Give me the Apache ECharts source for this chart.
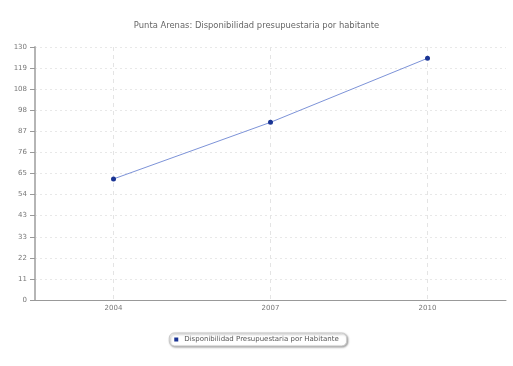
<!DOCTYPE html>
<html><head><meta charset="utf-8">
<script src="https://cdn.jsdelivr.net/npm/echarts@6/dist/echarts.min.js"></script>
<style>html,body{margin:0;padding:0;background:#fff}#c{width:513px;height:366px}</style>
</head><body><div id="c"></div>
<script>
var title = 'Punta Arenas: Disponibilidad presupuestaria por habitante';
var seriesName = 'Disponibilidad Presupuestaria por Habitante';
var categories = ['2004', '2007', '2010'];
var values = [62.2, 91.3, 124.2];
var yTickLabels = ['0', '11', '22', '33', '43', '54', '65', '76', '87', '98', '108', '119', '130'];
var yMax = 130;

var ySteps = yTickLabels.length - 1;
var chart = echarts.init(document.getElementById('c'));
chart.setOption({
  animation: false,
  backgroundColor: '#fff',
  title: {
    text: title, left: 'center', top: 17,
    textStyle: {fontFamily: 'DejaVu Sans', fontSize: 8.4, fontWeight: 'normal', color: '#666'}
  },
  grid: {left: 35, right: 7, top: 47, bottom: 66, containLabel: false},
  xAxis: {
    type: 'category', data: categories, boundaryGap: true,
    axisLine: {lineStyle: {color: '#999', width: 1}},
    axisTick: {show: false, alignWithLabel: true},
    axisLabel: {fontFamily: 'DejaVu Sans', fontSize: 7, color: '#777', margin: 5},
    splitLine: {show: true, interval: 0, alignWithLabel: true, lineStyle: {color: '#e4e4e4', type: [4, 4]}}
  },
  yAxis: {
    type: 'value', min: 0, max: yMax, interval: yMax / ySteps,
    axisLine: {show: true, lineStyle: {color: '#b5b5b5', width: 2}},
    axisTick: {show: true, length: 5, lineStyle: {color: '#999', width: 1}},
    axisLabel: {fontFamily: 'DejaVu Sans', fontSize: 7, color: '#777', margin: 8,
      formatter: function (v) { return yTickLabels[Math.round(v / (yMax / ySteps))]; }},
    splitLine: {show: true, lineStyle: {color: '#e8e8e8', type: [2, 3]}}
  },
  legend: {
    data: [seriesName], top: 333, left: 'center',
    icon: 'rect', itemWidth: 4, itemHeight: 4, itemGap: 4,
    padding: [3, 8, 3, 5],
    backgroundColor: '#fff', borderColor: '#c8c8c8', borderWidth: 1, borderRadius: 5,
    shadowColor: 'rgba(0,0,0,0.35)', shadowBlur: 2, shadowOffsetX: 1, shadowOffsetY: 1,
    textStyle: {fontFamily: 'DejaVu Sans', fontSize: 7, color: '#555', padding: [0, 0, 0, 1]}
  },
  series: [{
    name: seriesName, type: 'line', data: values,
    symbol: 'circle', symbolSize: 5,
    lineStyle: {color: '#7d93d8', width: 1},
    itemStyle: {color: '#1a3494'}
  }]
});
</script></body></html>
